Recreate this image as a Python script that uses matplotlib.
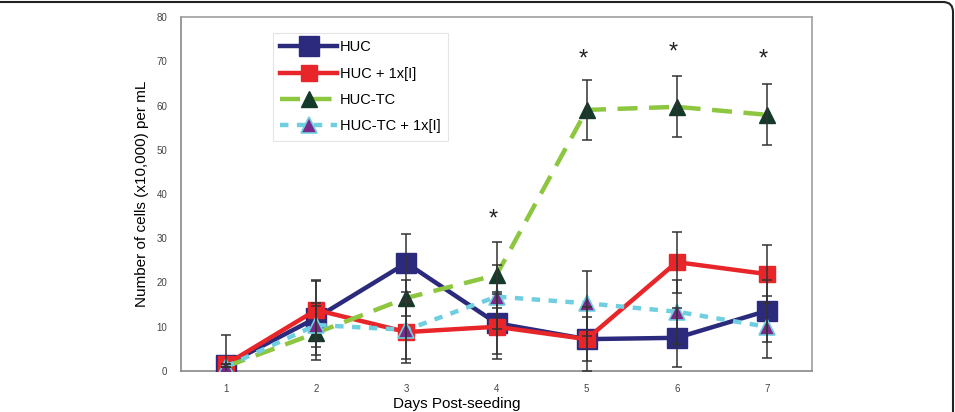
import numpy as np
import matplotlib
matplotlib.use("Agg")
import matplotlib.pyplot as plt
from matplotlib.patches import FancyBboxPatch

plt.rcParams['font.family'] = ['Liberation Sans', 'DejaVu Sans']

# -----------------------------
# Data
# -----------------------------
days = [1, 2, 3, 4, 5, 6, 7]

huc = [1.4, 12.0, 24.4, 10.8, 7.2, 7.5, 13.6]
huc_err = [6.7, 8.4, 6.6, 7.0, 7.2, 6.7, 7.0]

huc_i = [1.5, 13.8, 8.8, 10.0, 7.2, 24.6, 21.9]
huc_i_err = [0.0, 6.8, 6.9, 7.3, 5.0, 6.9, 6.6]

huc_tc = [1.0, 8.6, 16.5, 21.7, 59.0, 59.7, 57.9]
huc_tc_err = [0.0, 6.1, 4.0, 7.4, 6.8, 6.9, 6.9]

huc_tc_i = [1.0, 10.4, 9.3, 16.8, 15.3, 13.4, 10.0]
huc_tc_i_err = [0.0, 5.0, 6.7, 7.2, 7.3, 7.2, 7.0]

star_days = [4, 5, 6, 7]
star_y = [34.3, 70.3, 72.0, 70.3]

# -----------------------------
# Figure
# -----------------------------
fig = plt.figure(figsize=(9.55, 4.12), dpi=100)
ax = fig.add_axes([181 / 955, 41 / 412, 631 / 955, 354 / 412])

err_kw = dict(fmt='none', ecolor='#333333', elinewidth=1.1, capsize=3.8,
              capthick=1.1, zorder=10)

ax.plot(days, huc, color='#2b2a7c', lw=3.2, marker='s', ms=14,
        mfc='#2b2a7c', mec='#2b2a7c', label='HUC', zorder=3)
ax.plot(days, huc_i, color='#e8262a', lw=3.2, marker='s', ms=11,
        mfc='#e8262a', mec='#e8262a', label='HUC + 1x[I]', zorder=4)
ax.plot(days, huc_tc, color='#8dc63f', lw=3.2, dashes=(4.5, 2.6),
        marker='^', ms=11, mfc='#163a2a', mec='#163a2a',
        label='HUC-TC', zorder=5)
ax.plot(days, huc_tc_i, color='#6fcfe0', lw=3.2, dashes=(1.9, 1.9),
        marker='^', ms=11, mfc='#7b2a8c', mec='#6fcfe0', mew=1.2,
        label='HUC-TC + 1x[I]', zorder=6)

for vals, errs in [(huc, huc_err), (huc_i, huc_i_err),
                   (huc_tc, huc_tc_err), (huc_tc_i, huc_tc_i_err)]:
    ax.errorbar(days, vals, yerr=errs, **err_kw)

for d, y in zip(star_days, star_y):
    ax.text(d - 0.04, y, '*', ha='center', va='center', fontsize=17,
            color='#222222')

ax.set_xlim(0.5, 7.5)
ax.set_ylim(0, 80)
ax.set_xticks(days)
ax.set_yticks(np.arange(0, 81, 10))
ax.tick_params(length=0, labelsize=7, colors='#444444')
ax.tick_params(axis='x', pad=9)
ax.tick_params(axis='y', pad=10)
for s in ax.spines.values():
    s.set_color('#a0a0a0')
    s.set_linewidth(1.2)
ax.spines['left'].set_color('#888888')
ax.spines['bottom'].set_color('#888888')

ax.set_ylabel('Number of cells (x10,000) per mL', fontsize=11, labelpad=5.5)
fig.text(457 / 955, 1 - 404 / 412, 'Days Post-seeding', fontsize=11,
         ha='center', va='center')

leg = ax.legend(loc='upper left', bbox_to_anchor=(273 / 955, 1 - 33 / 412),
                bbox_transform=fig.transFigure, borderaxespad=0,
                fontsize=10.5, handlelength=3.9, labelspacing=0.85,
                handletextpad=0.2, borderpad=0.5, fancybox=False,
                framealpha=1, edgecolor='#e4e4e4')
leg.get_frame().set_linewidth(0.8)

# journal panel border (rounded top-right corner)
border = FancyBboxPatch((-0.5, -0.5), 10.03, 4.60,
                        boxstyle='round,pad=0,rounding_size=0.1',
                        transform=fig.dpi_scale_trans, fill=False,
                        edgecolor='#222222', lw=1.5)
fig.add_artist(border)

fig.savefig('out.png', dpi=100)
